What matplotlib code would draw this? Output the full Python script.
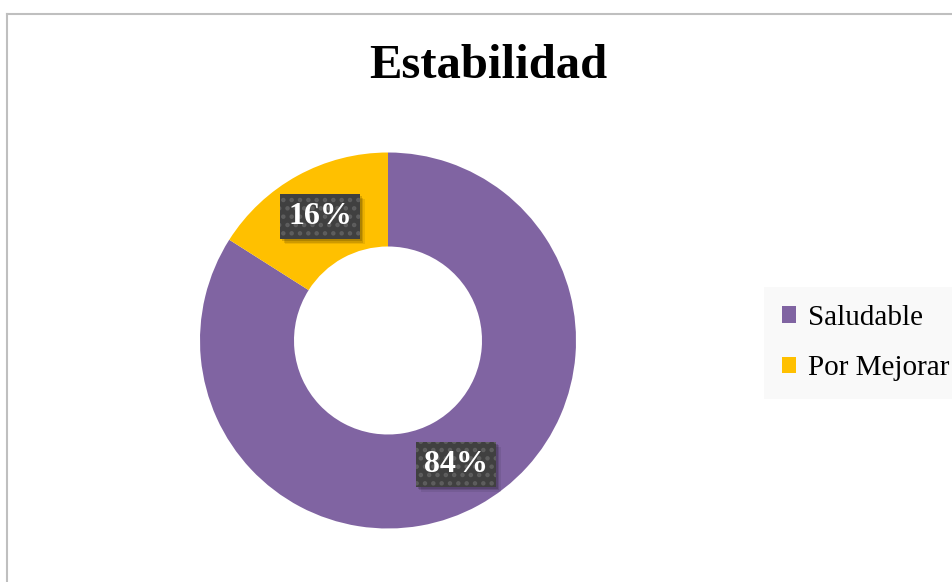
import matplotlib
matplotlib.use('Agg')
import matplotlib.pyplot as plt
from matplotlib.patches import Patch, Rectangle
from matplotlib.lines import Line2D
from matplotlib.transforms import IdentityTransform

plt.rcParams['font.family'] = ['Liberation Serif', 'DejaVu Serif']
plt.rcParams['hatch.linewidth'] = 2.0

title = 'Estabilidad'
categories = ['Saludable', 'Por Mejorar']
values = [84, 16]
colors = ['#8064A2', '#FFC000']

W, H = 953, 582
fig = plt.figure(figsize=(W / 100, H / 100), dpi=100)
fig.patch.set_facecolor('white')

# chart border (only top and left visible)
fig.add_artist(Line2D([7.5 / W, 1.0], [1 - 13.5 / H, 1 - 13.5 / H], color='#BFBFBF', lw=1.5))
fig.add_artist(Line2D([7.5 / W, 7.5 / W], [0, 1 - 13.5 / H], color='#BFBFBF', lw=1.5))

fig.text(488 / W, 1 - 66 / H, title, ha='center', va='center',
         fontsize=35, fontweight='bold')

ax = fig.add_axes([200 / W, 53.5 / H, 376 / W, 376 / H])
wedges, texts, autotexts = ax.pie(
    values, colors=colors, startangle=90, counterclock=False,
    radius=1.0, wedgeprops=dict(width=0.5, edgecolor='none'),
    autopct='%1.0f%%', pctdistance=0.75)
for t in autotexts:
    t.set_color('white')
    t.set_fontsize(23)
    t.set_fontweight('bold')
    t.set_zorder(5)
    t.set_bbox(dict(boxstyle='square,pad=0.25', facecolor='#404040',
                    edgecolor='#5E5E5E', hatch='..', linewidth=0))
ax.set_xlim(-1, 1)
ax.set_ylim(-1, 1)
ax.set_aspect('equal')
ax.axis('off')

handles = [Patch(facecolor=c, edgecolor='none') for c in colors]
leg = fig.legend(handles, categories, loc='center left',
                 bbox_to_anchor=(773 / W, 1 - 343 / H), frameon=True,
                 fontsize=21, handlelength=0.5, handleheight=0.5,
                 handletextpad=0.4, labelspacing=0.85, borderpad=0.3,
                 borderaxespad=0)
leg.get_frame().set_facecolor('#F8F8F8')
leg.get_frame().set_edgecolor('none')
leg.get_frame().set_boxstyle('square')

# soft drop shadow behind the label boxes
fig.canvas.draw()
renderer = fig.canvas.get_renderer()
for t in autotexts:
    bb = t.get_bbox_patch().get_window_extent(renderer)
    for k, a in ((5, 0.08), (3.5, 0.12), (2, 0.15)):
        ax.add_patch(Rectangle((bb.x0 + k, bb.y0 - k), bb.width, bb.height,
                               transform=IdentityTransform(), facecolor='black',
                               alpha=a, linewidth=0, zorder=4, clip_on=False))

fig.savefig('out.png', dpi=100)
